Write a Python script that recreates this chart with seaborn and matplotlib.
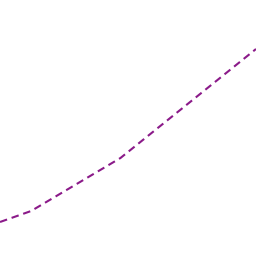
import matplotlib
matplotlib.use("Agg")
import matplotlib.pyplot as plt
import seaborn as sns
import pandas as pd

x_vals = [0, 31, 120, 255]
y_vals = [34, 45, 98, 207]

df = pd.DataFrame({"x": x_vals, "y": y_vals})

sns.set_style("white")
fig = plt.figure(figsize=(2.56, 2.56), dpi=100)
ax = fig.add_axes([0, 0, 1, 1])
sns.lineplot(data=df, x="x", y="y", ax=ax, color="#8B1A89", linewidth=1.5)
ax.lines[0].set_dashes((3.6, 2.3))
ax.set_xlim(0, 255)
ax.set_ylim(0, 256)
ax.axis("off")
fig.savefig("out.png", dpi=100)
